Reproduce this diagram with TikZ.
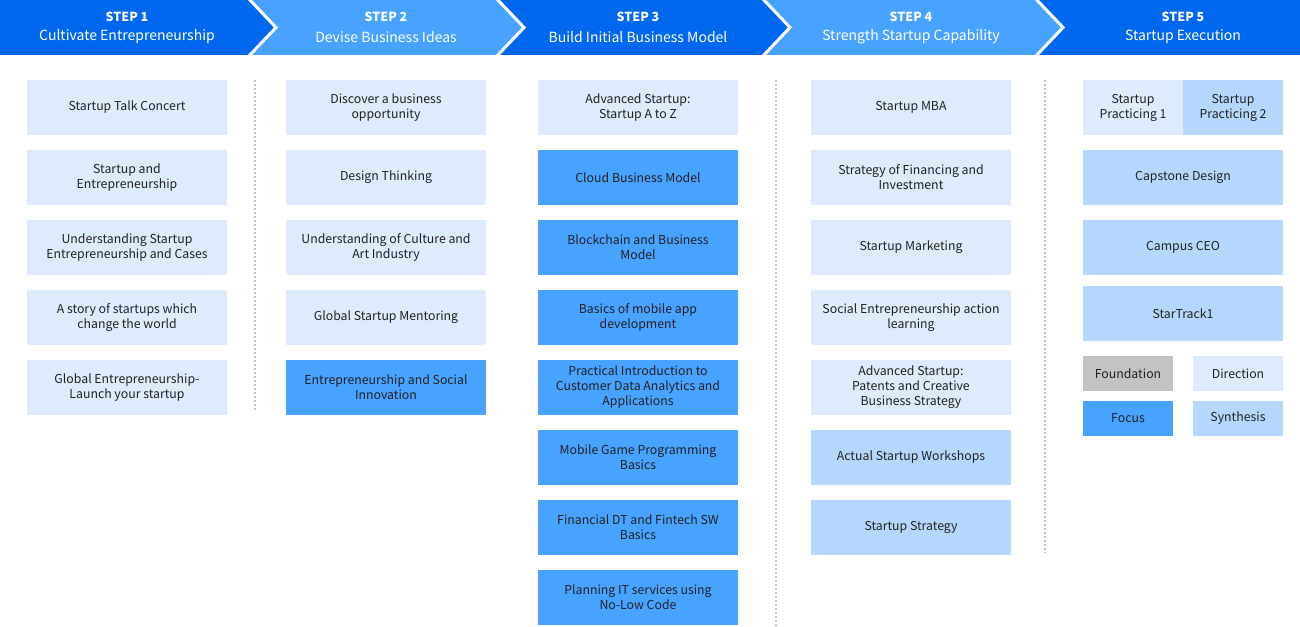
\documentclass[tikz,border=0pt]{standalone}
\usepackage{fontspec}
\setmainfont{Noto Sans CJK KR}
\usepackage{xcolor}
\usetikzlibrary{math}
\usetikzlibrary{positioning}

\definecolor{stepdark}{HTML}{0068EE}
\definecolor{steplight}{HTML}{48A2FF}
\definecolor{dircol}{HTML}{DDEBFD}
\definecolor{foccol}{HTML}{48A2FF}
\definecolor{syncol}{HTML}{B6D7FD}
\definecolor{fdncol}{HTML}{C3C3C3}
\definecolor{txtcol}{HTML}{222222}
\definecolor{sepcol}{HTML}{C4C4C4}

\begin{document}
\begin{tikzpicture}[x=1pt,y=-1pt,node distance=15pt,
  course/.style={minimum width=200pt,minimum height=55pt,inner sep=0pt,outer sep=0pt,
    align=center,text=txtcol,font=\fontsize{12.3}{15}\selectfont},
  dir/.style={course,fill=dircol},
  foc/.style={course,fill=foccol},
  syn/.style={course,fill=syncol},
  half/.style={minimum width=100pt},
  legend/.style={course,minimum width=90pt,minimum height=35pt},
  stepno/.style={text=white,font=\fontsize{12.5}{15}\selectfont\bfseries},
  steptitle/.style={text=white,font=\fontsize{14}{17}\selectfont},
  sep/.style={sepcol,line width=1.3pt,dash pattern=on 1.5pt off 2.5pt}]

  \tikzmath{
    \tip  = 28;   % depth of the chevron point
    \band = 55;   % height of the header band
  }

  \useasboundingbox (0,0) rectangle (1300,626);

  % header band
  \fill[stepdark] (0,0) rectangle (1300,\band);
  \fill[steplight] (248,0) -- (496,0) -- (496+\tip,\band/2) -- (496,\band)
    -- (248,\band) -- (248+\tip,\band/2) -- cycle;
  \fill[steplight] (762,0) -- (1035,0) -- (1035+\tip,\band/2) -- (1035,\band)
    -- (762,\band) -- (762+\tip,\band/2) -- cycle;
  \foreach \b in {248,496,762,1035}
    \draw[white,line width=3pt] (\b,-2) -- (\b+\tip,\band/2) -- (\b,\band+2);

  \node[stepno] (s1) at (127,17) {STEP 1};
  \node[steptitle] (t1) at (127,37) {Cultivate Entrepreneurship};
  \node[stepno] (s2) at (386,17) {STEP 2};
  \node[steptitle] (t2) at (386,37) {Devise Business Ideas};
  \node[stepno] (s3) at (638,17) {STEP 3};
  \node[steptitle] (t3) at (638,37) {Build Initial Business Model};
  \node[stepno] (s4) at (911,17) {STEP 4};
  \node[steptitle] (t4) at (911,37) {Strength Startup Capability};
  \node[stepno] (s5) at (1183,17) {STEP 5};
  \node[steptitle] (t5) at (1183,37) {Startup Execution};

  % dotted separators
  \draw[sep] (255,80) -- (255,412);
  \draw[sep] (776,80) -- (776,626);
  \draw[sep] (1045,80) -- (1045,553);

  % step 1
  \node[dir] (c1r1) at (127,107.5) {Startup Talk Concert};
  \node[dir,below=of c1r1] (c1r2) {Startup and\\Entrepreneurship};
  \node[dir,below=of c1r2] (c1r3) {Understanding Startup\\Entrepreneurship and Cases};
  \node[dir,below=of c1r3] (c1r4) {A story of startups which\\change the world};
  \node[dir,below=of c1r4] (c1r5) {Global Entrepreneurship-\\Launch your startup};

  % step 2
  \node[dir] (c2r1) at (386,107.5) {Discover a business\\opportunity};
  \node[dir,below=of c2r1] (c2r2) {Design Thinking};
  \node[dir,below=of c2r2] (c2r3) {Understanding of Culture and\\Art Industry};
  \node[dir,below=of c2r3] (c2r4) {Global Startup Mentoring};
  \node[foc,below=of c2r4] (c2r5) {Entrepreneurship and Social\\Innovation};

  % step 3
  \node[dir] (c3r1) at (638,107.5) {Advanced Startup:\\Startup A to Z};
  \node[foc,below=of c3r1] (c3r2) {Cloud Business Model};
  \node[foc,below=of c3r2] (c3r3) {Blockchain and Business\\Model};
  \node[foc,below=of c3r3] (c3r4) {Basics of mobile app\\development};
  \node[foc,below=of c3r4] (c3r5) {Practical Introduction to\\Customer Data Analytics and\\Applications};
  \node[foc,below=of c3r5] (c3r6) {Mobile Game Programming\\Basics};
  \node[foc,below=of c3r6] (c3r7) {Financial DT and Fintech SW\\Basics};
  \node[foc,below=of c3r7] (c3r8) {Planning IT services using\\No-Low Code};

  % step 4
  \node[dir] (c4r1) at (911,107.5) {Startup MBA};
  \node[dir,below=of c4r1] (c4r2) {Strategy of Financing and\\Investment};
  \node[dir,below=of c4r2] (c4r3) {Startup Marketing};
  \node[dir,below=of c4r3] (c4r4) {Social Entrepreneurship action\\learning};
  \node[dir,below=of c4r4] (c4r5) {Advanced Startup:\\Patents and Creative\\Business Strategy};
  \node[syn,below=of c4r5] (c4r6) {Actual Startup Workshops};
  \node[syn,below=of c4r6] (c4r7) {Startup Strategy};

  % step 5
  \node[dir,half] (c5r1a) at (1133,107.5) {Startup\\Practicing 1};
  \node[syn,half,right=0pt of c5r1a] (c5r1b) {Startup\\Practicing 2};
  \node[syn] (c5r2) at (1183,177.5) {Capstone Design};
  \node[syn,below=of c5r2] (c5r3) {Campus CEO};
  \node[syn,below=11pt of c5r3] (c5r4) {StarTrack1};

  % legend
  \node[legend,fill=fdncol] (fdn) at (1128,373.5) {Foundation};
  \node[legend,fill=dircol,right=20pt of fdn] (dirkey) {Direction};
  \node[legend,fill=foccol,below=10pt of fdn] (fockey) {Focus};
  \node[legend,fill=syncol,right=20pt of fockey] (synkey) {Synthesis};

\end{tikzpicture}
\end{document}
